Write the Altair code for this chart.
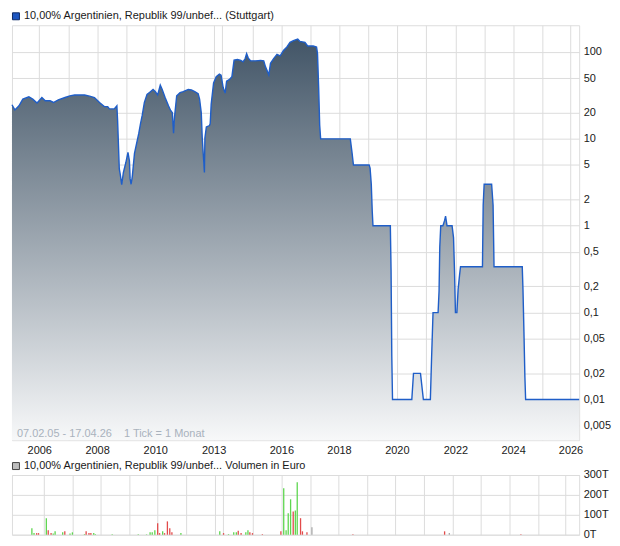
import altair as alt
import pandas as pd

# ---------------- data ----------------
# position = running month index of the traded series (07.02.2005 = 0)
price_t = [0, 1.2, 2.9, 4.5, 7.0, 8.6, 10.4, 12.4, 13.8, 15.8, 17.2, 19.2, 22.0, 24.0, 26.0,
           30.1, 32.2, 34.2, 36.3, 38.3, 39.7, 40.4, 42.4, 43.5, 43.8, 44.5, 44.9, 45.5, 46.2,
           47.2, 48.1, 48.7, 49.0, 49.4, 49.9, 50.8, 51.7, 52.6, 53.3, 54.0, 54.9, 56.0, 57.4,
           58.5, 59.4, 60.4, 61.5, 62.3, 63.5, 64.9, 65.8, 66.5, 67.0, 67.4, 68.3, 69.7, 71.0,
           73.1, 74.4, 75.8, 77.2, 77.8, 78.5, 78.9, 79.5, 79.8, 80.0, 80.6, 81.9, 82.2, 82.6,
           83.6, 84.7, 86.0, 86.7, 87.6, 88.4, 89.0, 90.1, 91.2, 92.1, 93.5, 94.9, 95.8, 96.7,
           97.3, 98.0, 99.0, 101.0, 103.1, 104.4, 105.1, 106.5, 107.2, 108.5, 109.9, 111.2,
           112.6, 114.0, 115.3, 116.7, 118.5, 119.4, 121.5, 122.6, 124.9, 126.3, 126.7, 127.2,
           127.6, 128.0, 140.3, 141.0, 141.6, 148.1, 148.5, 149.0, 149.4, 149.7, 156.9, 157.2,
           157.5, 157.8, 165.8, 166.5, 169.4, 170.6, 173.5, 174.0, 174.6, 176.7, 177.1, 177.4,
           177.8, 178.7, 179.4, 179.8, 180.4, 182.5, 183.1, 183.5, 183.9, 184.5, 185.0, 185.6,
           186.0, 195.1, 195.4, 195.8, 198.9, 199.5, 199.9, 211.6, 211.9, 212.3, 212.7, 213.0,
           235.2]
price_v = [24.7, 21.5, 24, 28.6, 30.4, 28.6, 25.8, 29.9, 27.4, 27.4, 26.2, 28.1, 29.9, 31.2, 32,
           32, 31, 29.9, 26.2, 23.5, 23.5, 22.1, 22.1, 24, 16.3, 4.5, 3.9, 2.97, 4.1,
           5.3, 7.0, 5.6, 3.46, 3.0, 3.7, 6.8, 8.9, 11.6, 15, 18.6, 26.2, 32.5, 34.9,
           37, 35, 32, 41.5, 37, 29.9, 24, 21.2, 20, 11.6, 17.8, 31.2, 34, 35,
           37, 36.5, 35, 33, 28.6, 20, 10.2, 5.6, 4.1, 10.2, 13.7, 14.2, 15, 25,
           44, 52, 55.6, 54, 38.7, 33.6, 46, 48, 52, 80.5, 81.8, 80, 77, 84,
           95.7, 85, 79, 79, 80, 79, 67.8, 54.6, 74, 84, 94, 90,
           104, 114, 129, 135, 141, 132, 129, 117, 117, 114, 95.7, 37,
           14.4, 10, 10, 7.0, 5, 5, 4.6, 3.0, 1.46, 1, 1, 0.31,
           0.0315, 0.01, 0.01, 0.02, 0.02, 0.01, 0.01, 0.03, 0.1, 0.1, 0.177, 0.57,
           1, 1, 1.15, 1.29, 1, 1, 0.73, 0.31, 0.1, 0.1, 0.185, 0.27,
           0.337, 0.337, 1.73, 3, 3, 1.73, 0.337, 0.337, 0.185, 0.06, 0.018, 0.01,
           0.01]

# volume in thousand euro (T)
vol_t = [6.3, 7.2, 8.3, 9.1, 12.4, 13.2, 14.4, 15.3, 16.1, 19.3, 20.2, 22.4, 23.4, 28.5, 29.2,
         30.4, 31.2, 32.4, 33.1, 40.2, 51.2, 54.7, 56.2, 57.1, 58.2, 59.4, 60.2, 61.5, 62.3,
         63.5, 64.5, 65.4, 69.2, 85.6, 87.2, 89.3, 91.5, 92.6, 93.4, 94.6, 96.6, 97.5, 98.3,
         99.4, 103.6, 111.4, 112.6, 113.6, 114.5, 115.5, 116.6, 117.5, 118.3, 119.7, 120.5,
         122.4, 124.5, 141.8, 180.5, 182.5, 212.7]
vol_v = [33, 8, 8, 8, 83, 22, 8, 6, 17, 12, 17, 6, 12, 3, 17,
         8, 8, 8, 3, 2, 2, 2, 12, 12, 22, 58, 8, 17, 8,
         67, 33, 12, 8, 17, 8, 3, 12, 12, 20, 8, 12, 23, 12,
         8, 3, 17, 233, 22, 108, 178, 117, 122, 263, 83, 17,
         12, 38, 2, 17, 8, 2]
vol_dir = ["up", "up", "down", "down", "up", "down", "down", "up", "up", "up", "down", "up", "up", "up", "down",
           "down", "down", "up", "up", "up", "up", "up", "up", "up", "up", "down", "down", "up", "down",
           "down", "down", "down", "up", "up", "down", "up", "up", "up", "down", "down", "up", "up", "down",
           "down", "down", "down", "up", "up", "up", "up", "down", "up", "up", "down", "down",
           "down", "flat", "down", "down", "flat", "down"]

tick_pos = [11.3, 23.4, 35.3, 47.4, 59.4, 71.5, 83.6, 87.1, 99.7, 111.7, 123.7, 135.6, 147.8,
            159.6, 171.7, 183.9, 195.8, 207.8, 219.9, 231.6]
tick_year = ["2006", "2007", "2008", "2009", "2010", "2011", "2013", "2014", "2015", "2016",
             "2017", "2018", "2019", "2020", "2021", "2022", "2023", "2024", "2025", "2026"]
shown_years = ["2006", "2008", "2010", "2013", "2016", "2018", "2020", "2022", "2024", "2026"]
y_ticks = [0.005, 0.01, 0.02, 0.05, 0.1, 0.2, 0.5, 1, 2, 5, 10, 20, 50, 100]
vol_ticks = [0, 100, 200, 300]

title_main = "10,00% Argentinien, Republik 99/unbef... (Stuttgart)"
title_vol = "10,00% Argentinien, Republik 99/unbef... Volumen in Euro"
footnote = "07.02.05 - 17.04.26\u00a0\u00a0\u00a0 1 Tick = 1 Monat"

# ---------------- chart ----------------
FONT = "Liberation Sans"
W, H1, H2 = 570, 417, 60
GRID = "#dcdcdc"

price_df = pd.DataFrame({"t": price_t, "v": price_v})
vol_df = pd.DataFrame({"t": vol_t, "v": vol_v, "d": vol_dir})

expr = "''"
for p, y in reversed(list(zip(tick_pos, tick_year))):
    if y in shown_years:
        expr = f"datum.value == {p} ? '{y}' : ({expr})"

xscale = alt.Scale(domain=[0, 235.2], nice=False, zero=False)
yscale = alt.Scale(type="log", domain=[0.0034, 203], nice=False)

x_axis_main = alt.Axis(values=tick_pos, labelExpr=expr, grid=True, gridColor=GRID, ticks=False,
                       domain=False, labelFont=FONT, labelFontSize=11, labelColor="#1a1a1a",
                       labelOverlap=False, labelPadding=4, title=None, labelFlush=False)
y_axis_main = alt.Axis(orient="right", values=y_ticks,
                       labelExpr="replace(format(datum.value, '~g'), '.', ',')",
                       grid=True, gridColor=GRID, ticks=False, domain=False, labelFont=FONT,
                       labelFontSize=11, labelColor="#1a1a1a", labelPadding=4, title=None,
                       labelOverlap=False)

gradient = alt.Gradient(gradient="linear",
                        stops=[alt.GradientStop(color="#425567", offset=0),
                               alt.GradientStop(color="#f7f8f9", offset=1)],
                        x1=1, x2=1, y1=0, y2=1)

area = alt.Chart(price_df).mark_area(color=gradient, interpolate="linear").encode(
    x=alt.X("t:Q", scale=xscale, axis=x_axis_main),
    y=alt.Y("v:Q", scale=yscale, axis=y_axis_main),
    y2=alt.datum(0.0034),
)
line = alt.Chart(price_df).mark_line(color="#1f5ec8", strokeWidth=1.4, interpolate="linear").encode(
    x=alt.X("t:Q", scale=xscale, axis=x_axis_main),
    y=alt.Y("v:Q", scale=yscale, axis=y_axis_main),
)

hdr1 = pd.DataFrame({"label": [title_main]})
hdr1_box = alt.Chart(hdr1).mark_rect(fill="#1d56c0", stroke="#0d2a66", strokeWidth=1,
                                     opacity=1).encode(
    x=alt.value(0.5), x2=alt.value(7.5), y=alt.value(-12.5), y2=alt.value(-5.5))
hdr1_text = alt.Chart(hdr1).mark_text(align="left", baseline="middle", font=FONT, fontSize=11,
                                      color="#1a1a1a").encode(
    x=alt.value(12), y=alt.value(-9), text="label:N")
foot = alt.Chart(pd.DataFrame({"label": [footnote]})).mark_text(
    align="left", baseline="middle", font=FONT, fontSize=11, color="#a9b2bd").encode(
    x=alt.value(5), y=alt.value(H1 - 6), text="label:N")

main = alt.layer(area, line, hdr1_box, hdr1_text, foot).properties(width=W, height=H1)

x_axis_vol = alt.Axis(values=tick_pos, labels=False, grid=True, gridColor=GRID, ticks=False,
                      domain=False, title=None)
y_axis_vol = alt.Axis(orient="right", values=vol_ticks, labelExpr="datum.value + 'T'",
                      grid=True, gridColor=GRID, ticks=False, domain=False, labelFont=FONT,
                      labelFontSize=11, labelColor="#1a1a1a", labelPadding=4, title=None,
                      labelOverlap=False)

bars = alt.Chart(vol_df).mark_bar(size=1.3).encode(
    x=alt.X("t:Q", scale=xscale, axis=x_axis_vol),
    y=alt.Y("v:Q", scale=alt.Scale(domain=[0, 300], nice=False), axis=y_axis_vol),
    color=alt.Color("d:N", scale=alt.Scale(domain=["up", "down", "flat"],
                                           range=["#5ed64f", "#e24a4a", "#a8a8a8"]),
                    legend=None),
)
hdr2 = pd.DataFrame({"label": [title_vol]})
hdr2_box = alt.Chart(hdr2).mark_rect(fill="#bdbdbd", stroke="#444444", strokeWidth=1,
                                     opacity=1).encode(
    x=alt.value(0.5), x2=alt.value(7.5), y=alt.value(-12.5), y2=alt.value(-5.5))
hdr2_text = alt.Chart(hdr2).mark_text(align="left", baseline="middle", font=FONT, fontSize=11,
                                      color="#1a1a1a").encode(
    x=alt.value(12), y=alt.value(-9), text="label:N")

vol = alt.layer(bars, hdr2_box, hdr2_text).properties(width=W, height=H2)

chart = alt.vconcat(main, vol, spacing=3).properties(
    padding={"left": 0, "top": 0, "right": 0, "bottom": 0},
    autosize=alt.AutoSizeParams(type="pad"),
).configure_view(stroke="#d4d4d4").configure_axis(labelOverlap=False).configure(
    font=FONT, background="white", padding={"left": 0, "top": 0, "right": 0, "bottom": 0})

chart.save("out.html", embed_options={"renderer": "svg", "actions": False, "padding": 0})
